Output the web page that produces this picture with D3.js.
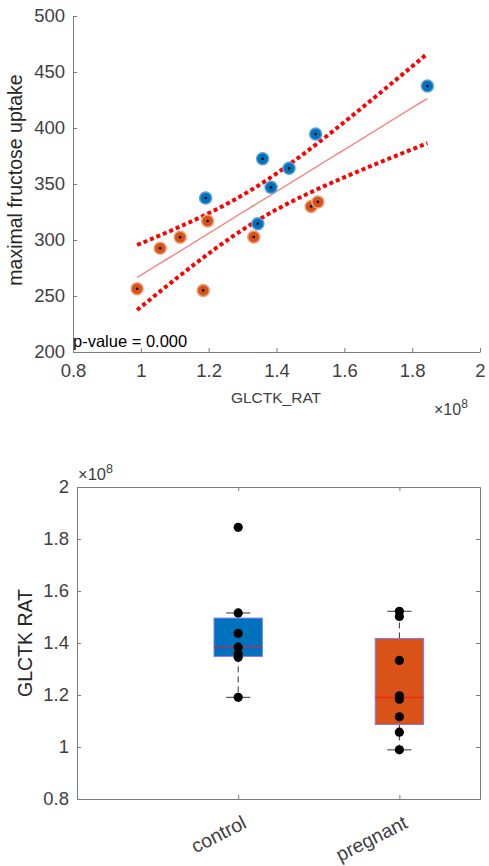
<!DOCTYPE html>
<html>
<head>
<meta charset="utf-8">
<script src="https://cdn.jsdelivr.net/npm/d3@7"></script>
<style>
  body { margin: 0; background: #fff; }
  svg { display: block; font-family: "Liberation Sans", Arial, sans-serif; }
</style>
</head>
<body>
<svg></svg>
<script>
// two panels: scatter with linear fit on top, boxplot below

const width = 489;
const height = 866;

// GLCTK_RAT in units of 1e8, uptake values
const controlX = [1.845, 1.5155, 1.359, 1.437, 1.384, 1.191, 1.345];
const controlY = [437.5, 394.6, 372.6, 364, 347, 337.5, 314.6];
const pregnantX = [0.989, 1.057, 1.116, 1.197, 1.184, 1.333, 1.502, 1.522];
const pregnantY = [256.5, 292.6, 302.4, 317, 255, 302.7, 330, 334];

const groups = ["control", "pregnant"];
const xTicksTop = [0.8, 1, 1.2, 1.4, 1.6, 1.8, 2];
const yTicksTop = [200, 250, 300, 350, 400, 450, 500];
const yTicksBottom = [0.8, 1, 1.2, 1.4, 1.6, 1.8, 2];

const tCrit = 2.1604; // t(0.975, 13)

const blue = "#0072BD";
const orange = "#D95319";
const axisGrey = "#7a7a7a";
const labelGrey = "#404040";

let svg = d3.select("svg")
    .attr("width", width)
    .attr("height", height);

// ---------- top panel ----------
const x1 = d3.scaleLinear().domain([0.8, 2]).range([73, 480]);
const y1 = d3.scaleLinear().domain([200, 500]).range([352, 16]);

// least squares fit from all points
const allX = controlX.concat(pregnantX);
const allY = controlY.concat(pregnantY);
const n = allX.length;
const mx = d3.mean(allX), my = d3.mean(allY);
let sxx = 0, sxy = 0;
allX.forEach((v, i) => { sxx += (v - mx) ** 2; sxy += (v - mx) * (allY[i] - my); });
const slope = sxy / sxx;
const icpt = my - slope * mx;
let sse = 0;
allX.forEach((v, i) => { sse += (allY[i] - (icpt + slope * v)) ** 2; });
const s = Math.sqrt(sse / (n - 2));
const xmin = d3.min(allX), xmax = d3.max(allX);
const fitXs = d3.range(0, 41).map(k => xmin + (xmax - xmin) * k / 40);
const half = xv => tCrit * s * Math.sqrt(1 / n + (xv - mx) ** 2 / sxx);

const topG = svg.append("g");

const xAxis1 = topG.append("g")
    .attr("transform", "translate(0,352)")
    .call(d3.axisBottom(x1).tickValues(xTicksTop).tickFormat(d3.format("")).tickSizeInner(-4).tickSizeOuter(0).tickPadding(12));
const yAxis1 = topG.append("g")
    .attr("transform", "translate(73,0)")
    .call(d3.axisLeft(y1).tickValues(yTicksTop).tickSizeInner(-4).tickSizeOuter(0).tickPadding(8));

[xAxis1, yAxis1].forEach(a => {
  a.select(".domain").attr("stroke", axisGrey);
  a.selectAll(".tick line").attr("stroke", axisGrey);
  a.selectAll(".tick text").attr("fill", labelGrey).attr("font-size", 18.5);
});

topG.append("text")
    .attr("x", 276).attr("y", 403)
    .attr("text-anchor", "middle")
    .attr("font-size", 15.5)
    .attr("fill", labelGrey)
    .text("GLCTK_RAT");

topG.append("text")
    .attr("transform", "translate(22,180) rotate(-90)")
    .attr("text-anchor", "middle")
    .attr("font-size", 19.5)
    .attr("fill", "#262626")
    .text("maximal fructose uptake");

const exp1 = topG.append("text")
    .attr("x", 434).attr("y", 415)
    .attr("font-size", 16)
    .attr("fill", labelGrey);
exp1.append("tspan").text("\u00d710");
exp1.append("tspan").attr("dy", -7).attr("font-size", 12).text("8");

// fit line and confidence band
const line1 = d3.line().x(d => x1(d[0])).y(d => y1(d[1]));
topG.append("path")
    .attr("d", line1(fitXs.map(v => [v, icpt + slope * v])))
    .attr("fill", "none")
    .attr("stroke", "#ff7070")
    .attr("stroke-width", 1.2);
[1, -1].forEach(sg => {
  topG.append("path")
      .attr("d", line1(fitXs.map(v => [v, icpt + slope * v + sg * half(v)])))
      .attr("fill", "none")
      .attr("stroke", "#ff0000")
      .attr("stroke-width", 4)
      .attr("stroke-dasharray", "4,3");
});

function scatterGroup(xs, ys, fill, halo) {
  const g = topG.append("g");
  const pts = xs.map((v, i) => [v, ys[i]]);
  g.selectAll("circle.m").data(pts).enter().append("circle")
      .attr("cx", d => x1(d[0])).attr("cy", d => y1(d[1]))
      .attr("r", 6)
      .attr("fill", fill)
      .attr("stroke", halo)
      .attr("stroke-width", 1.5);
  g.selectAll("circle.c").data(pts).enter().append("circle")
      .attr("cx", d => x1(d[0])).attr("cy", d => y1(d[1]))
      .attr("r", 1.3)
      .attr("fill", "#000");
}
scatterGroup(pregnantX, pregnantY, orange, "#eba07c");
scatterGroup(controlX, controlY, blue, "#5aa0d6");

topG.append("text")
    .attr("x", 73).attr("y", 347)
    .attr("font-size", 16.5)
    .attr("fill", "#000")
    .text("p-value = 0.000");

// ---------- bottom panel ----------
const x2 = d3.scaleLinear().domain([0, 2.5]).range([77, 480]);
const y2 = d3.scaleLinear().domain([0.8, 2]).range([799, 487]);

const bot = svg.append("g");

const xb = bot.append("g").attr("transform", "translate(0,799)")
    .call(d3.axisBottom(x2).tickValues([1, 2]).tickFormat(d => groups[d - 1]).tickSizeInner(-4).tickSizeOuter(0));
const xt = bot.append("g").attr("transform", "translate(0,487)")
    .call(d3.axisTop(x2).tickValues([1, 2]).tickFormat("").tickSizeInner(-4).tickSizeOuter(0));
const yl = bot.append("g").attr("transform", "translate(77,0)")
    .call(d3.axisLeft(y2).tickValues(yTicksBottom).tickFormat(d3.format("")).tickSizeInner(-4).tickSizeOuter(0).tickPadding(8));
const yr = bot.append("g").attr("transform", "translate(480,0)")
    .call(d3.axisRight(y2).tickValues(yTicksBottom).tickFormat("").tickSizeInner(-4).tickSizeOuter(0));

[xb, xt, yl, yr].forEach(a => {
  a.select(".domain").attr("stroke", axisGrey);
  a.selectAll(".tick line").attr("stroke", axisGrey);
  a.selectAll(".tick text").attr("fill", labelGrey).attr("font-size", 18.5);
});
xb.selectAll(".tick text")
    .attr("font-size", 19.5)
    .attr("text-anchor", "end")
    .attr("y", 0).attr("dy", 0)
    .attr("transform", "translate(9,28) rotate(-27)");

bot.append("text")
    .attr("transform", "translate(32,643) rotate(-90)")
    .attr("text-anchor", "middle")
    .attr("font-size", 19.5)
    .attr("fill", "#262626")
    .text("GLCTK RAT");

const exp2 = bot.append("text")
    .attr("x", 78).attr("y", 480)
    .attr("font-size", 16.5)
    .attr("fill", labelGrey);
exp2.append("tspan").text("\u00d710");
exp2.append("tspan").attr("dy", -7).attr("font-size", 12.5).text("8");

// matlab-style quartiles
function quant(sorted, p) {
  const m = sorted.length;
  let pos = p * m + 0.5;
  if (pos <= 1) return sorted[0];
  if (pos >= m) return sorted[m - 1];
  const lo = Math.floor(pos);
  return sorted[lo - 1] + (pos - lo) * (sorted[lo] - sorted[lo - 1]);
}

const groupData = [controlX, pregnantX];
const boxFill = [blue, orange];
const medColor = ["#9a3a60", "#f52a12"];
const boxHalf = 0.15;

groupData.forEach((vals, gi) => {
  const pos = gi + 1;
  const sorted = vals.slice().sort(d3.ascending);
  const q1 = quant(sorted, 0.25), med = quant(sorted, 0.5), q3 = quant(sorted, 0.75);
  const iqr = q3 - q1;
  const hiW = d3.max(sorted.filter(v => v <= q3 + 1.5 * iqr));
  const loW = d3.min(sorted.filter(v => v >= q1 - 1.5 * iqr));
  const g = bot.append("g");

  // whiskers
  [[q3, hiW], [q1, loW]].forEach(w => {
    g.append("line")
        .attr("x1", x2(pos)).attr("x2", x2(pos))
        .attr("y1", y2(w[0])).attr("y2", y2(w[1]))
        .attr("stroke", "#333").attr("stroke-width", 1)
        .attr("stroke-dasharray", "6,4");
    g.append("line")
        .attr("x1", x2(pos - boxHalf / 2)).attr("x2", x2(pos + boxHalf / 2))
        .attr("y1", y2(w[1])).attr("y2", y2(w[1]))
        .attr("stroke", "#333").attr("stroke-width", 1);
  });

  g.append("rect")
      .attr("x", x2(pos - boxHalf))
      .attr("width", x2(pos + boxHalf) - x2(pos - boxHalf))
      .attr("y", y2(q3))
      .attr("height", y2(q1) - y2(q3))
      .attr("fill", boxFill[gi])
      .attr("stroke", "#7b7bff")
      .attr("stroke-width", 1);

  g.append("line")
      .attr("x1", x2(pos - boxHalf)).attr("x2", x2(pos + boxHalf))
      .attr("y1", y2(med)).attr("y2", y2(med))
      .attr("stroke", medColor[gi]).attr("stroke-width", 1.5);

  g.selectAll("circle").data(vals).enter().append("circle")
      .attr("cx", x2(pos))
      .attr("cy", d => y2(d))
      .attr("r", 4.6)
      .attr("fill", "#000");
});
</script>
</body>
</html>
